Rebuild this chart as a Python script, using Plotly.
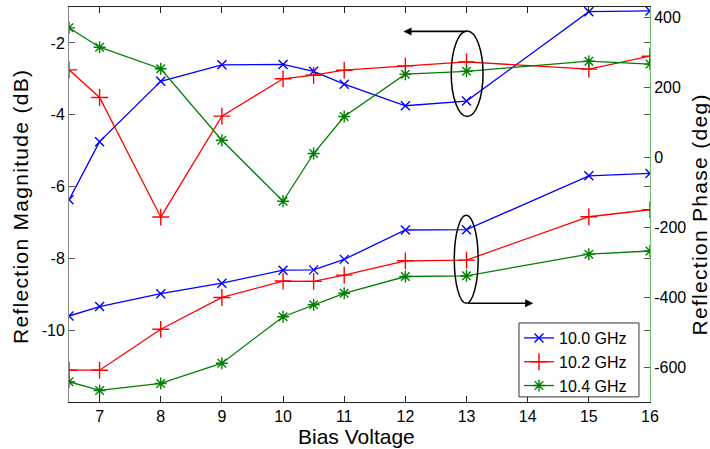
import plotly.graph_objects as go

bias_voltage = [6.5, 7, 8, 9, 10, 10.5, 11, 12, 13, 15, 16]

mag_10_0 = [-6.37, -4.75, -3.07, -2.61, -2.60, -2.79, -3.15, -3.75, -3.62, -1.13, -1.11]
mag_10_2 = [-2.75, -3.52, -6.85, -4.04, -3.00, -2.90, -2.76, -2.64, -2.53, -2.73, -2.37]
mag_10_4 = [-1.58, -2.12, -2.72, -4.71, -6.41, -5.08, -4.05, -2.87, -2.79, -2.51, -2.59]

phase_10_0 = [-454, -427, -390, -360, -323, -322, -292, -208, -207, -53, -46]
phase_10_2 = [-609, -609, -492, -401, -354, -355, -337, -296, -294, -170, -150]
phase_10_4 = [-642, -667, -647, -589, -456, -422, -389, -341, -339, -277, -268]

series_names = ["10.0 GHz", "10.2 GHz", "10.4 GHz"]
colors = ["#0000ff", "#ff0000", "#008000"]
symbols = ["x-thin-open", "cross-thin-open", "asterisk-open"]
sizes = [9, 12, 10]

x_ticks = [7, 8, 9, 10, 11, 12, 13, 14, 15, 16]
mag_ticks = [-10, -8, -6, -4, -2]
phase_ticks = [-600, -400, -200, 0, 200, 400]

FONT = "Liberation Sans, Arial, sans-serif"

fig = go.Figure()

mags = [mag_10_0, mag_10_2, mag_10_4]
phases = [phase_10_0, phase_10_2, phase_10_4]

for i in range(3):
    fig.add_trace(go.Scatter(
        x=bias_voltage, y=mags[i], mode="lines+markers", name=series_names[i],
        line=dict(color=colors[i], width=1.3),
        marker=dict(symbol=symbols[i], size=sizes[i], color=colors[i],
                    line=dict(color=colors[i], width=1.4)),
        yaxis="y", showlegend=True,
    ))
for i in range(3):
    fig.add_trace(go.Scatter(
        x=bias_voltage, y=phases[i], mode="lines+markers", name=series_names[i],
        line=dict(color=colors[i], width=1.3),
        marker=dict(symbol=symbols[i], size=sizes[i], color=colors[i],
                    line=dict(color=colors[i], width=1.4)),
        yaxis="y2", showlegend=False,
    ))

# ellipses grouping curves
fig.add_shape(type="circle", xref="x", yref="y", x0=12.75, x1=13.27, y0=-4.05, y1=-1.67,
              line=dict(color="black", width=1.5))
fig.add_shape(type="circle", xref="x", yref="y", x0=12.80, x1=13.19, y0=-9.25, y1=-6.80,
              line=dict(color="black", width=1.5))

# legend frame
fig.add_shape(type="rect", xref="paper", yref="paper", x0=0.7745, x1=0.981, y0=0.013, y1=0.2,
              line=dict(color="#333", width=1), fillcolor="white", layer="above")

# arrows
fig.add_annotation(x=11.97, y=-1.68, ax=13.01, ay=-1.68, xref="x", yref="y", axref="x", ayref="y",
                   text="", showarrow=True, arrowhead=2, arrowsize=1, arrowwidth=1.6, arrowcolor="black")
fig.add_annotation(x=14.09, y=-9.25, ax=13.0, ay=-9.25, xref="x", yref="y", axref="x", ayref="y",
                   text="", showarrow=True, arrowhead=2, arrowsize=1, arrowwidth=1.6, arrowcolor="black")

# axis titles as annotations for exact placement
fig.add_annotation(text="Bias Voltage", x=0.4948, y=-0.0886, xref="paper", yref="paper",
                   xanchor="center", yanchor="middle", showarrow=False, font=dict(size=21))
fig.add_annotation(text='<span style="letter-spacing:1.3px">Reflection Magnitude (dB)</span>',
                   x=-0.0826, y=0.4937, xref="paper", yref="paper",
                   xanchor="center", yanchor="middle", textangle=-90, showarrow=False, font=dict(size=21))
fig.add_annotation(text='<span style="letter-spacing:1.3px">Reflection Phase (deg)</span>',
                   x=1.0852, y=0.4734, xref="paper", yref="paper",
                   xanchor="center", yanchor="middle", textangle=-90, showarrow=False, font=dict(size=21))

fig.update_layout(
    width=710, height=449, autosize=False,
    margin=dict(l=69, r=60, t=7, b=47, autoexpand=False),
    paper_bgcolor="white", plot_bgcolor="white",
    font=dict(family=FONT, size=16, color="black"),
    xaxis=dict(
        range=[6.5, 16], tickvals=x_ticks, ticktext=[str(v) for v in x_ticks],
        ticks="inside", ticklen=6, tickcolor="#222",
        showline=True, linecolor="#222", linewidth=1, mirror="ticks", showgrid=False, zeroline=False,
        tickfont=dict(size=16), automargin=False,
    ),
    yaxis=dict(
        range=[-12, -1], tickvals=mag_ticks, ticktext=[str(v) for v in mag_ticks],
        ticks="inside", ticklen=6, tickcolor="#555",
        showline=True, linecolor="#888", linewidth=1, mirror="ticks", showgrid=False, zeroline=False,
        tickfont=dict(size=16), automargin=False,
    ),
    yaxis2=dict(
        range=[-700, 430], tickvals=phase_ticks, ticktext=[str(v) for v in phase_ticks],
        ticks="inside", ticklen=6, tickcolor="#555",
        overlaying="y", side="right", anchor="x",
        showline=True, linecolor="#6cbf6c", linewidth=1, showgrid=False, zeroline=False,
        tickfont=dict(size=16), automargin=False,
    ),
    legend=dict(
        x=0.7745, y=0.205, xanchor="left", yanchor="top",
        bgcolor="rgba(0,0,0,0)", borderwidth=0,
        font=dict(size=16), itemwidth=30, tracegroupgap=0,
    ),
    showlegend=True,
)

fig.write_html("out.html", config={"displayModeBar": False})

# remove the default page margin so the figure sits at the window's top-left corner
with open("out.html", "r", encoding="utf-8") as f:
    html = f.read()
html = html.replace("<body>", '<body style="margin:0;padding:0;overflow:hidden">', 1)
with open("out.html", "w", encoding="utf-8") as f:
    f.write(html)
